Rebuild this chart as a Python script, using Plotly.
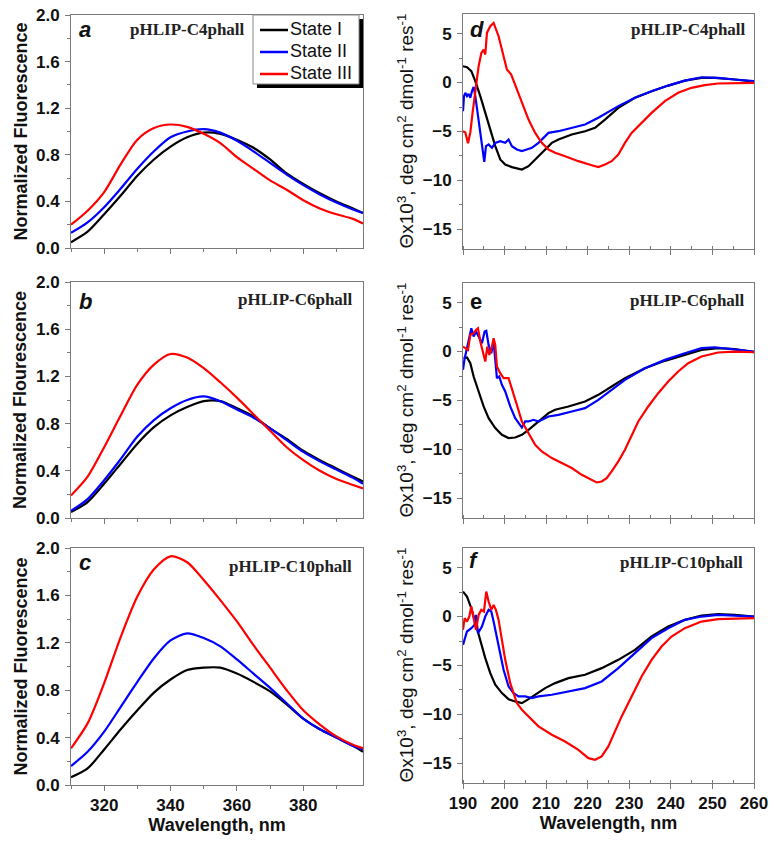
import plotly.graph_objects as go

W, H = 775, 844

# ---------------- Fluorescence data (panels a, b, c) ----------------
fl_wl = [310, 315, 320, 325, 330, 335, 340, 345, 350, 355, 360, 365, 370, 375, 380, 385, 390, 395, 398]

a_state1 = [0.05, 0.14, 0.29, 0.45, 0.62, 0.76, 0.87, 0.95, 0.99, 0.98, 0.93, 0.86, 0.76, 0.64, 0.55, 0.47, 0.40, 0.34, 0.30]
a_state2 = [0.13, 0.22, 0.35, 0.51, 0.68, 0.83, 0.95, 1.00, 1.02, 0.99, 0.92, 0.83, 0.73, 0.63, 0.54, 0.46, 0.39, 0.33, 0.30]
a_state3 = [0.20, 0.32, 0.48, 0.72, 0.93, 1.03, 1.06, 1.04, 0.98, 0.90, 0.78, 0.68, 0.58, 0.50, 0.41, 0.34, 0.29, 0.25, 0.21]

b_state1 = [0.05, 0.135, 0.29, 0.46, 0.63, 0.77, 0.87, 0.94, 0.99, 0.99, 0.93, 0.86, 0.76, 0.67, 0.57, 0.49, 0.42, 0.35, 0.31]
b_state2 = [0.06, 0.16, 0.32, 0.50, 0.69, 0.83, 0.93, 1.00, 1.03, 0.99, 0.92, 0.85, 0.76, 0.66, 0.56, 0.48, 0.41, 0.34, 0.29]
b_state3 = [0.19, 0.35, 0.60, 0.87, 1.13, 1.30, 1.39, 1.36, 1.27, 1.15, 1.02, 0.88, 0.74, 0.60, 0.49, 0.40, 0.33, 0.28, 0.25]

c_state1 = [0.065, 0.14, 0.30, 0.47, 0.63, 0.78, 0.89, 0.97, 0.99, 0.99, 0.94, 0.87, 0.79, 0.68, 0.56, 0.47, 0.40, 0.33, 0.28]
c_state2 = [0.16, 0.28, 0.45, 0.66, 0.87, 1.07, 1.22, 1.28, 1.24, 1.17, 1.06, 0.94, 0.82, 0.69, 0.56, 0.47, 0.40, 0.33, 0.30]
c_state3 = [0.31, 0.52, 0.86, 1.25, 1.59, 1.82, 1.93, 1.88, 1.73, 1.56, 1.38, 1.18, 0.99, 0.80, 0.63, 0.51, 0.41, 0.34, 0.31]

# ---------------- CD data (panels d, e, f) ----------------
d_state1_wl = [190, 190.96, 192, 192.96, 194.16, 195.36, 196.56, 197.76, 198.96, 200.16, 201.76, 204.16, 205.76, 207.36, 209.36, 211.36, 212.96, 216.16, 219.36, 221.76, 224.16, 227.36, 231.36, 235.36, 239.36, 243.36, 247.36, 250.56, 255.36, 260]
d_state1 = [1.67, 1.56, 1.16, 0.14, -1.39, -3.1, -4.8, -6.5, -7.86, -8.37, -8.64, -8.88, -8.54, -7.86, -7.0, -6.16, -5.82, -5.31, -4.97, -4.63, -3.78, -2.59, -1.56, -0.88, -0.31, 0.20, 0.48, 0.48, 0.31, 0.10]
d_state2_wl = [190, 190.24, 190.56, 190.96, 191.36, 191.76, 192.16, 192.56, 192.96, 193.76, 194.56, 195.12, 195.52, 196.16, 196.96, 197.76, 198.96, 200.16, 200.96, 201.76, 202.96, 204.16, 205.36, 206.56, 208.16, 210.56, 212.96, 216.16, 219.36, 222.56, 227.36, 231.36, 235.36, 239.36, 243.36, 247.36, 251.36, 255.36, 260]
d_state2 = [-2.93, -1.39, -1.05, -1.39, -1.16, -1.56, -0.88, -0.44, -1.39, -3.78, -6.5, -8.1, -6.5, -6.33, -6.67, -6.16, -5.99, -6.16, -5.82, -6.5, -6.84, -7.0, -6.84, -6.67, -6.16, -5.14, -4.97, -4.63, -4.29, -3.6, -2.41, -1.56, -0.88, -0.31, 0.2, 0.54, 0.48, 0.31, 0.14]
d_state3_wl = [190, 190.56, 191.2, 191.76, 192.3, 192.96, 193.76, 194.4, 194.96, 195.36, 195.76, 196.56, 197.36, 198.56, 199.76, 200.56, 201.6, 202.96, 204.16, 205.76, 207.36, 208.96, 210.56, 212.16, 214.56, 217.76, 220.96, 222.56, 224.16, 225.76, 227.36, 228.96, 230.56, 232.96, 235.36, 238.56, 241.76, 244.96, 248.16, 251.36, 260]
d_state3 = [-4.97, -5.1, -6.2, -5.1, -3.1, -1.05, 1.67, 3.0, 3.37, 2.86, 5.07, 5.75, 6.09, 4.73, 2.86, 1.33, 0.82, -0.71, -2.07, -3.78, -5.14, -6.16, -6.84, -7.18, -7.52, -8.03, -8.44, -8.64, -8.37, -8.03, -7.35, -6.16, -5.14, -4.12, -3.10, -1.90, -1.05, -0.54, -0.27, -0.10, -0.03]

e_state1_wl = [190.16, 190.96, 191.76, 192.56, 193.76, 194.96, 196.16, 197.76, 199.36, 200.96, 202.56, 204.16, 205.76, 208.16, 210.56, 212.16, 215.36, 219.36, 222.56, 225.76, 228.96, 233.76, 238.56, 243.36, 247.36, 251.36, 255.36, 260]
e_state1 = [-0.68, -0.61, -1.19, -2.55, -4.08, -5.61, -6.8, -7.82, -8.5, -8.84, -8.78, -8.5, -7.99, -7.14, -6.29, -5.95, -5.61, -5.1, -4.42, -3.57, -2.72, -1.7, -0.95, -0.34, 0.17, 0.34, 0.24, -0.07]
e_state2_wl = [190, 190.4, 190.96, 191.52, 192.0, 192.56, 193.12, 193.76, 194.56, 195.2, 195.6, 196.16, 196.8, 197.36, 197.76, 198.16, 198.72, 199.36, 200.16, 201.36, 202.56, 203.76, 204.16, 204.96, 205.76, 206.96, 208.16, 210.56, 212.96, 216.16, 219.36, 222.56, 225.76, 228.96, 233.76, 238.56, 243.36, 247.36, 250.56, 255.36, 260]
e_state2 = [-1.87, -0.68, 0.34, 1.36, 2.38, 1.53, 2.04, 1.53, 0.85, 2.04, 2.11, 0.68, -0.17, 1.02, -0.68, -2.72, -2.55, -3.4, -4.08, -5.61, -6.8, -7.48, -7.76, -7.14, -7.14, -6.97, -7.14, -6.63, -6.46, -6.12, -5.78, -4.93, -3.91, -2.89, -1.7, -0.85, -0.17, 0.34, 0.44, 0.24, 0.0]
e_state3_wl = [190, 190.56, 191.2, 191.76, 192.56, 193.12, 193.6, 194.16, 194.96, 195.36, 195.84, 196.32, 196.8, 197.36, 197.76, 198.16, 198.96, 199.76, 200.96, 201.76, 202.96, 204.16, 205.76, 207.36, 208.96, 211.36, 213.76, 216.16, 218.56, 220.96, 222.16, 223.36, 224.56, 225.76, 227.36, 228.96, 230.56, 232.16, 234.56, 236.96, 239.36, 241.76, 244.16, 247.36, 251.36, 255.36, 260]
e_state3 = [0.51, 0.34, 0.17, 1.7, 1.87, 2.21, 2.38, 1.02, -0.51, -1.02, 0.51, -0.34, 0.17, 1.36, 0.68, -1.53, -2.21, -2.72, -2.72, -3.74, -5.44, -7.14, -8.33, -9.52, -10.2, -10.88, -11.39, -11.9, -12.59, -13.1, -13.37, -13.27, -12.93, -12.24, -11.22, -10.03, -8.5, -7.14, -5.61, -4.25, -3.06, -2.04, -1.19, -0.51, -0.1, 0.0, -0.07]

f_state1_wl = [190, 190.96, 192, 192.96, 194.16, 195.36, 196.56, 197.76, 199.36, 200.96, 202.56, 204.16, 205.76, 207.36, 209.76, 212.16, 215.36, 219.36, 223.36, 227.36, 231.36, 235.36, 239.36, 243.36, 247.36, 251.36, 255.36, 260]
f_state1 = [2.55, 2.04, 0.85, -0.68, -2.55, -4.25, -5.78, -6.97, -7.82, -8.44, -8.67, -8.84, -8.44, -7.99, -7.31, -6.8, -6.29, -5.95, -5.27, -4.42, -3.4, -2.04, -1.02, -0.34, 0.1, 0.24, 0.17, 0.0]
f_state2_wl = [190, 190.96, 192, 192.8, 193.12, 193.6, 194.56, 195.36, 196.16, 196.8, 197.36, 198.56, 199.76, 200.96, 202.16, 203.36, 204.96, 206.56, 208.16, 211.36, 215.36, 219.36, 223.36, 227.36, 231.36, 235.36, 239.36, 243.36, 247.36, 251.36, 255.36, 260]
f_state2 = [-2.89, -1.53, -1.19, -0.85, 0.17, -1.7, -1.02, 0.0, 0.68, 0.51, -0.51, -2.89, -5.44, -7.14, -7.82, -8.16, -8.16, -8.33, -8.16, -7.99, -7.65, -7.31, -6.63, -5.27, -3.74, -2.21, -1.19, -0.34, 0.0, 0.17, 0.1, 0.0]
f_state3_wl = [190, 190.4, 190.96, 191.52, 192, 192.56, 193.12, 193.76, 194.4, 195.04, 195.6, 196.16, 196.8, 197.36, 197.92, 198.56, 199.36, 200.16, 201.36, 202.96, 204.16, 205.76, 208.16, 211.36, 214.56, 217.76, 220.16, 221.76, 223.36, 224.96, 226.56, 228.16, 230.56, 232.96, 235.36, 237.76, 240.16, 243.36, 247.36, 251.36, 260]
f_state3 = [-1.36, -0.17, -0.51, 0.0, 1.02, -0.17, -1.36, 0.17, 0.68, 0.51, 2.55, 1.53, 0.68, 1.19, 0.68, -0.34, -2.38, -4.42, -6.8, -8.84, -9.52, -10.2, -11.22, -12.07, -12.76, -13.61, -14.46, -14.63, -14.29, -13.27, -11.73, -10.2, -8.16, -6.12, -4.42, -3.06, -2.04, -1.19, -0.51, -0.27, -0.17]

state_names = ["State I", "State II", "State III"]
state_colors = ["#000000", "#0000ff", "#ff0000"]
panel_letters = ["a", "b", "c", "d", "e", "f"]
panel_names = ["pHLIP-C4phall", "pHLIP-C6phall", "pHLIP-C10phall",
               "pHLIP-C4phall", "pHLIP-C6phall", "pHLIP-C10phall"]
left_ytitles = ["Normalized Fluorescence", "Normalized Flourescence", "Normalized Fluorescence"]
right_ytitle = "\u0398x10<sup>3</sup>, deg cm<sup>2</sup> dmol<sup>-1</sup> res<sup>-1</sup>"
xtitle = "Wavelength, nm"

fl_tickvals = [0.0, 0.4, 0.8, 1.2, 1.6, 2.0]
fl_ticktext = ["0.0", "0.4", "0.8", "1.2", "1.6", "2.0"]
fl_xticks = [320, 340, 360, 380]
cd_tickvals = [-15, -10, -5, 0, 5]
cd_xticks = [190, 200, 210, 220, 230, 240, 250, 260]

# ---------------- layout geometry (window pixels) ----------------
def px_x(p):
    return p / W

def px_y(p):
    return 1 - p / H

left_x = [71, 363]
right_x = [463, 754]
left_rows = [[15, 248], [282, 518], [548, 785]]
right_rows = [[14, 249], [283, 518], [548, 783]]

SANS = "Liberation Sans, Arial, Helvetica, sans-serif"
SERIF = "Liberation Serif, Times New Roman, serif"
AX = "#7a7a7a"
TXT = "#111111"

fig = go.Figure()

fl_data = [[a_state1, a_state2, a_state3], [b_state1, b_state2, b_state3], [c_state1, c_state2, c_state3]]
cd_data = [
    [(d_state1_wl, d_state1), (d_state2_wl, d_state2), (d_state3_wl, d_state3)],
    [(e_state1_wl, e_state1), (e_state2_wl, e_state2), (e_state3_wl, e_state3)],
    [(f_state1_wl, f_state1), (f_state2_wl, f_state2), (f_state3_wl, f_state3)],
]

layout_axes = {}
annotations = []
shapes = []

for r in range(3):
    ax_i = 2 * r + 1
    xa = "x" if ax_i == 1 else f"x{ax_i}"
    ya = "y" if ax_i == 1 else f"y{ax_i}"
    for s in range(3):
        fig.add_trace(go.Scatter(
            x=fl_wl, y=fl_data[r][s], mode="lines",
            line=dict(color=state_colors[s], width=2.2, shape="spline", smoothing=0.8),
            name=state_names[s], showlegend=False, xaxis=xa, yaxis=ya))
    ax_j = 2 * r + 2
    xb = f"x{ax_j}"
    yb = f"y{ax_j}"
    for s in range(3):
        wl, val = cd_data[r][s]
        fig.add_trace(go.Scatter(
            x=wl, y=val, mode="lines", line=dict(color=state_colors[s], width=2.2),
            name=state_names[s], showlegend=False, xaxis=xb, yaxis=yb))

    bottom = (r == 2)
    common = dict(showline=True, linecolor=AX, linewidth=1, mirror=True, showgrid=False, zeroline=False,
                  ticks="outside", tickcolor=AX, ticklen=5, tickwidth=1, automargin=False,
                  ticklabeloverflow="allow",
                  tickfont=dict(family=SANS, size=17, color=TXT, weight="bold"))
    lx = dict(common, domain=[px_x(left_x[0]), px_x(left_x[1])], range=[310, 398], anchor=ya,
              tickmode="array", tickvals=fl_xticks, showticklabels=bottom,
              minor=dict(dtick=10, tick0=310, ticklen=3, tickcolor=AX, ticks="outside"))
    ly = dict(common, domain=[px_y(left_rows[r][1]), px_y(left_rows[r][0])], range=[0, 2.0], anchor=xa,
              tickmode="array", tickvals=fl_tickvals, ticktext=fl_ticktext, ticklabelstandoff=2,
              minor=dict(dtick=0.2, tick0=0, ticklen=3, tickcolor=AX, ticks="outside"))
    rx = dict(common, domain=[px_x(right_x[0]), px_x(right_x[1])], range=[190, 260], anchor=yb,
              tickmode="array", tickvals=cd_xticks, showticklabels=bottom,
              minor=dict(dtick=5, tick0=190, ticklen=3, tickcolor=AX, ticks="inside"))
    ry = dict(common, domain=[px_y(right_rows[r][1]), px_y(right_rows[r][0])], range=[-17, 7], anchor=xb,
              tickmode="array", tickvals=cd_tickvals, ticklabelstandoff=2,
              minor=dict(dtick=2.5, tick0=0, ticklen=3, tickcolor=AX, ticks="outside"))
    if bottom:
        lx["title"] = dict(text=xtitle, font=dict(family=SANS, size=18, color=TXT, weight="bold"), standoff=0)
        rx["title"] = dict(text=xtitle, font=dict(family=SANS, size=18, color=TXT, weight="bold"), standoff=0)
    layout_axes["xaxis" if ax_i == 1 else f"xaxis{ax_i}"] = lx
    layout_axes["yaxis" if ax_i == 1 else f"yaxis{ax_i}"] = ly
    layout_axes[f"xaxis{ax_j}"] = rx
    layout_axes[f"yaxis{ax_j}"] = ry

    lcy = (left_rows[r][0] + left_rows[r][1]) / 2
    rcy = (right_rows[r][0] + right_rows[r][1]) / 2
    annotations.append(dict(text=left_ytitles[r], x=px_x(20), y=px_y(lcy), xref="paper", yref="paper",
                            showarrow=False, textangle=-90, xanchor="center", yanchor="middle",
                            font=dict(family=SANS, size=18, color=TXT, weight="bold")))
    annotations.append(dict(text=right_ytitle, x=px_x(405), y=px_y(rcy), xref="paper", yref="paper",
                            showarrow=False, textangle=-90, xanchor="center", yanchor="middle",
                            font=dict(family=SANS, size=19, color=TXT)))

# panel letters
letter_pos = [(77, 29), (77, 301), (77, 562), (468, 29), (468, 301), (467, 560)]
for i, (lx_, ly_) in enumerate(letter_pos):
    txt = f"<b><i>{panel_letters[i]}</i></b>" if panel_letters[i] != "e" else f"<b>{panel_letters[i]}</b>"
    annotations.append(dict(text=txt, x=px_x(lx_), y=px_y(ly_), xref="paper", yref="paper", showarrow=False,
                            xanchor="left", yanchor="middle", font=dict(family=SANS, size=22, color=TXT)))

# panel names
name_pos = [(128, 29, "left"), (355, 299, "right"), (354, 566, "right"),
            (748, 29, "right"), (747, 300, "right"), (745, 562, "right")]
for i, (nx, ny, anc) in enumerate(name_pos):
    annotations.append(dict(text=f"<b>{panel_names[i]}</b>", x=px_x(nx), y=px_y(ny), xref="paper", yref="paper",
                            showarrow=False, xanchor=anc, yanchor="middle",
                            font=dict(family=SERIF, size=17, color="#222222")))

# legend (drawn box with drop shadow, sample lines and labels)
shapes.append(dict(type="rect", xref="paper", yref="paper", x0=px_x(257), x1=px_x(363), y0=px_y(88), y1=px_y(19),
                   fillcolor="#000000", line=dict(width=0), layer="above"))
shapes.append(dict(type="rect", xref="paper", yref="paper", x0=px_x(253), x1=px_x(359), y0=px_y(84), y1=px_y(15),
                   fillcolor="#ffffff", line=dict(width=1, color="#888888"), layer="above"))
legend_rows = [30, 52, 74]
for s in range(3):
    shapes.append(dict(type="line", xref="paper", yref="paper", x0=px_x(260), x1=px_x(288),
                       y0=px_y(legend_rows[s]), y1=px_y(legend_rows[s]),
                       line=dict(color=state_colors[s], width=2.5), layer="above"))
    annotations.append(dict(text=state_names[s], x=px_x(288), y=px_y(legend_rows[s] - 1), xref="paper", yref="paper",
                            showarrow=False, xanchor="left", yanchor="middle",
                            font=dict(family=SANS, size=18, color=TXT)))

fig.update_layout(
    width=W, height=H, margin=dict(l=0, r=0, t=0, b=0),
    paper_bgcolor="white", plot_bgcolor="white",
    showlegend=False,
    annotations=annotations, shapes=shapes,
    **layout_axes,
)

# remove the default page margin so the figure fills the 775x844 window exactly
fig.write_html("out.html", config={"displayModeBar": False},
               post_script="document.body.style.margin='0';document.body.style.overflow='hidden';")
